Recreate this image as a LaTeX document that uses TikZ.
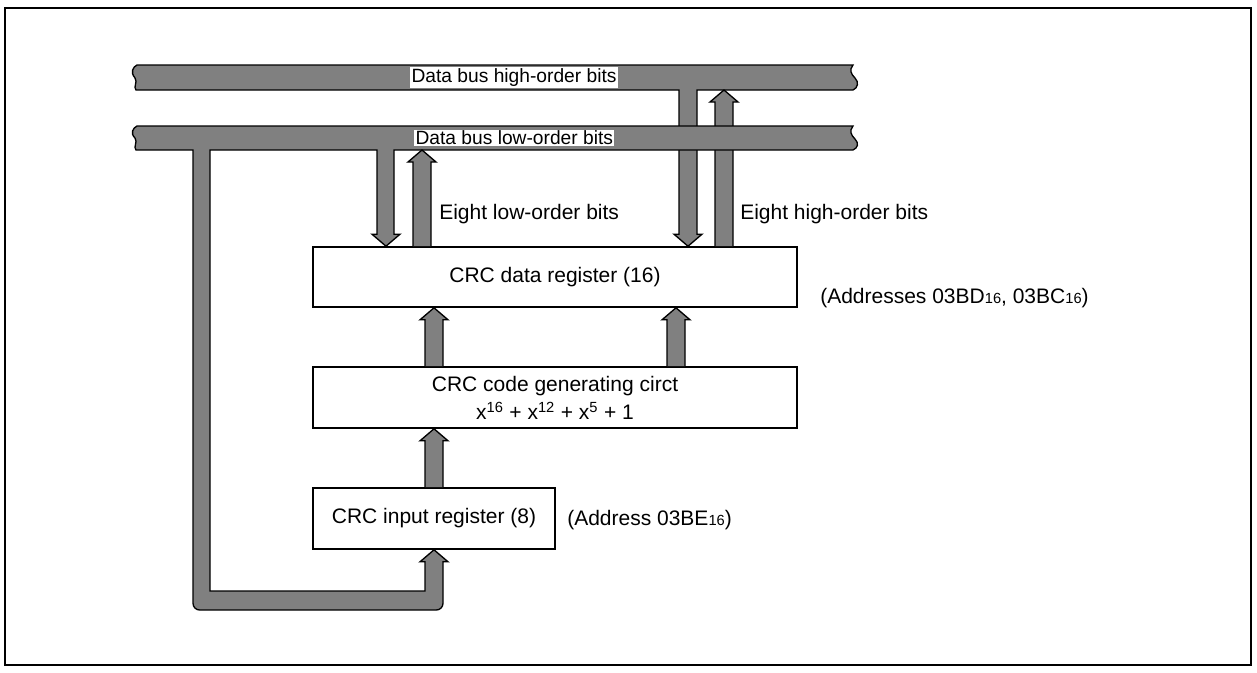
\documentclass[tikz,border=0pt]{standalone}
\usepackage{fontspec}
\setmainfont{Liberation Sans}
\usetikzlibrary{calc}
\definecolor{busG}{RGB}{128,128,128}
\newcommand{\lblfont}{\fontsize{15.75}{21}\selectfont}
\newcommand{\busfont}{\fontsize{14.4}{17}\selectfont}
\newcommand{\hexsub}[1]{{\fontsize{11}{12}\selectfont #1}}
% wavy break at the bus ends (#1 top y, #2 bottom y)
\newcommand{\rend}[2]{.. controls (849,#1+5) and (851,#1+9) .. (855,#1+13) .. controls (859,#1+17) and (858,#2-2) .. (853,#2)}
\newcommand{\lend}[2]{.. controls (133,#2-3) and (138,#2-8) .. (135,#2-12) .. controls (130,#1+7) and (133,#1+2) .. (137,#1)}
% block arrow pointing up: x, tail, tip
\newcommand{\upblock}[3]{%
  \draw[blk] let \p1=(#2), \p2=(#3) in
    (#1-9,\y1) -- (#1-9,\y2-9pt) -- (#1-14,\y2-9pt) -- (#1,\y2)
    -- (#1+14,\y2-9pt) -- (#1+9,\y2-9pt) -- (#1+9,\y1);}

\begin{document}
\begin{tikzpicture}[
  x=0.75pt, y=-0.75pt,
  reg/.style={draw, line width=1.2pt, fill=white, font=\lblfont, inner sep=2pt},
  blk/.style={draw, line width=1pt, fill=busG, line join=miter},
  lbl/.style={font=\lblfont, anchor=west, inner sep=0pt},
  buslbl/.style={font=\busfont, anchor=west, fill=white, inner sep=1pt}
]
\useasboundingbox (0,0) rectangle (1257,672);
\draw[line width=1.5pt] (5,8) rectangle (1251,665);

\node[reg, minimum width=363pt, minimum height=45pt] (dreg) at (555,277) {CRC data register (16)};
\node[reg, minimum width=363pt, minimum height=45.75pt, align=center] (cgen) at (555,397.5)
  {CRC code generating circt\\x\textsuperscript{16} + x\textsuperscript{12} + x\textsuperscript{5} + 1};
\node[reg, minimum width=181.5pt, minimum height=45.75pt] (cin) at (434,518.5) {CRC input register (8)};

\coordinate (hbus) at (0,90);
\coordinate (lbus) at (0,150);

% high-order bus with its down arrow
\draw[blk] let \p1=(dreg.north) in
  (137,65) -- (853,65) \rend{65}{90} -- (697,90) -- (697,\y1+9pt) -- (702,\y1+9pt)
  -- (688,\y1) -- (674,\y1+9pt) -- (679,\y1+9pt) -- (679,90) -- (136,90) \lend{65}{90} -- cycle;
\upblock{724}{dreg.north}{hbus}

% low-order bus, down arrow and loop to the input register
\draw[blk] let \p1=(dreg.north), \p2=(cin.south) in
  (137,126) -- (853,126) \rend{126}{150} -- (394,150) -- (394,\y1+9pt) -- (400,\y1+9pt)
  -- (386,\y1) -- (372,\y1+9pt) -- (377,\y1+9pt) -- (377,150) -- (210,150) -- (210,591)
  -- (425,591) -- (425,\y2-9pt) -- (420,\y2-9pt) -- (434,\y2) -- (448,\y2-9pt) -- (443,\y2-9pt)
  [rounded corners=5pt] -- (443,610) -- (193,610) [sharp corners] -- (193,150)
  -- (136,150) \lend{126}{150} -- cycle;
\upblock{422}{dreg.north}{lbus}

\upblock{434}{cgen.north}{dreg.south}
\upblock{676}{cgen.north}{dreg.south}
\upblock{434}{cin.north}{cgen.south}

\node[buslbl] (hlbl) at (410,77.5) {Data bus high-order bits};
\node[buslbl] (llbl) at (414,138) {Data bus low-order bits};
\node[lbl] (lowtxt) at (439,214) {Eight low-order bits};
\node[lbl] (hightxt) at (740,214) {Eight high-order bits};
\node[lbl] (daddr) at (820,298) {(Addresses 03BD\hexsub{16}, 03BC\hexsub{16})};
\node[lbl] (iaddr) at (567,520) {(Address 03BE\hexsub{16})};
\end{tikzpicture}
\end{document}
